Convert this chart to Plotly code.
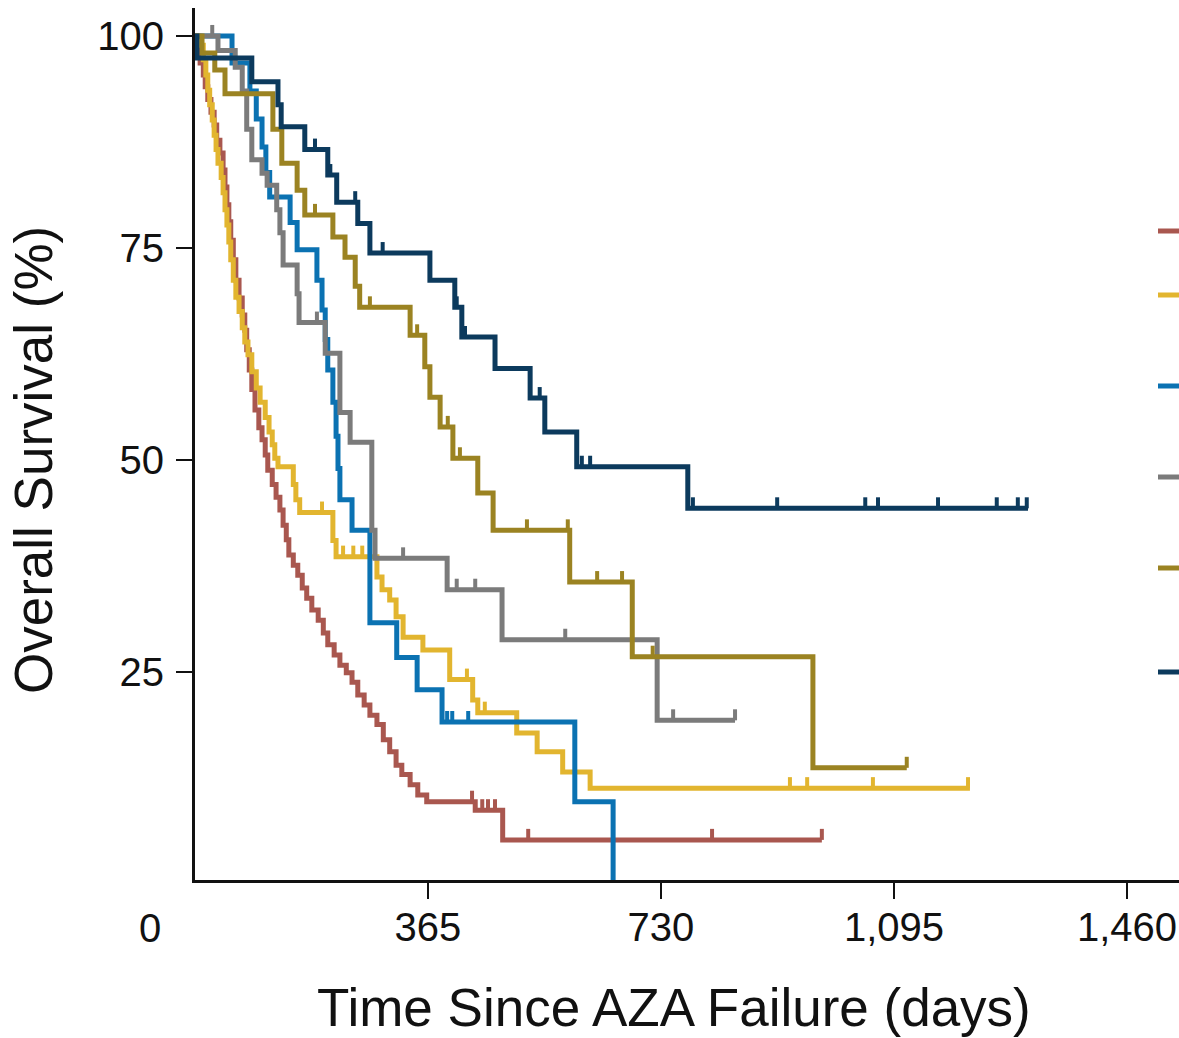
import plotly.graph_objects as go

# Kaplan-Meier step data: event times (days) and survival (%) after each step
red_t = [5, 8, 13, 16, 20, 25, 30, 34, 39, 44, 47, 50, 53, 56, 60, 64, 69, 74, 78, 81,
         85, 89, 94, 100, 105, 110, 114, 121, 127, 133, 138, 143, 147, 154, 161, 168, 175,
         183, 193, 201, 208, 218, 227, 237, 246, 255, 265, 274, 285, 295, 305, 315, 324,
         337, 349, 363, 439, 482]
red_s = [98.3, 96.8, 95.4, 94.0, 92.5, 91.0, 89.5, 87.7, 86.2, 84.2, 82.2, 80.1, 78.1, 75.9,
         73.6, 71.2, 69.1, 67.1, 65.3, 63.0, 60.6, 58.3, 55.9, 53.8, 52.4, 50.6, 48.8, 47.1,
         45.6, 44.1, 42.3, 40.6, 38.8, 37.6, 36.4, 34.9, 33.7, 32.3, 31.1, 29.6, 28.2, 27.0,
         25.8, 24.9, 23.8, 22.3, 21.1, 19.9, 18.8, 17.0, 15.6, 14.0, 12.9, 11.7, 10.5, 9.7,
         8.7, 5.2]
red_end = 982
red_cens = [434, 450, 459, 470, 522, 810, 982]

yellow_t = [8, 13, 17, 20, 23, 27, 30, 33, 36, 41, 44, 47, 50, 53, 56, 60, 64, 69, 74, 78,
            83, 89, 96, 102, 110, 116, 121, 125, 130, 154, 158, 164, 216, 221, 285, 293, 305,
            315, 326, 357, 399, 435, 443, 504, 536, 576, 619]
yellow_s = [98.9, 97.2, 95.4, 93.6, 91.9, 90.1, 88.3, 86.6, 85.0, 83.3, 81.5, 79.5, 77.7,
            75.7, 73.6, 71.2, 69.2, 67.5, 65.6, 63.9, 62.4, 60.4, 58.5, 56.8, 55.0, 53.3,
            51.8, 50.2, 49.2, 47.1, 45.3, 43.8, 40.5, 38.6, 36.2, 34.7, 33.5, 31.5, 29.1,
            27.6, 24.1, 21.7, 20.2, 17.8, 15.6, 13.2, 11.3]
yellow_end = 1214
yellow_cens = [199, 232, 248, 262, 426, 454, 932, 959, 1062, 1211]

blue_t = [58, 86, 96, 105, 111, 117, 149, 160, 191, 199, 204, 208, 216, 221, 224, 227, 246,
          274, 316, 348, 387, 595, 655]
blue_s = [96.8, 93.5, 90.2, 86.9, 83.9, 81.0, 78.0, 74.8, 71.2, 67.7, 64.2, 60.6, 56.8, 52.8,
          49.0, 45.3, 41.7, 30.8, 26.7, 22.9, 19.1, 9.7, 0.0]
blue_end = 655
blue_cens = [395, 403, 428]

gray_t = [36, 63, 74, 81, 89, 105, 113, 128, 133, 138, 160, 163, 204, 227, 243, 277, 282,
          395, 481, 724]
gray_s = [98.3, 96.3, 93.5, 89.0, 85.4, 83.8, 82.4, 79.5, 76.8, 73.0, 69.6, 66.2, 62.6, 55.6,
          52.1, 41.7, 38.4, 34.7, 28.8, 19.3]
gray_end = 846
gray_cens = [27, 191, 326, 410, 439, 580, 749, 846]

olive_t = [11, 31, 47, 122, 136, 160, 172, 216, 235, 251, 258, 337, 360, 368, 384, 404, 443,
           467, 587, 685, 968]
olive_s = [98.0, 96.0, 93.2, 89.0, 85.0, 81.8, 78.9, 76.3, 73.9, 70.5, 68.0, 64.7, 61.0, 57.4,
           53.9, 50.2, 46.1, 41.7, 35.6, 26.8, 13.7]
olive_end = 1115
olive_cens = [188, 274, 348, 396, 415, 520, 584, 630, 669, 717, 1115]

navy_t = [3, 89, 130, 135, 172, 208, 222, 255, 274, 368, 407, 418, 470, 525, 548, 598, 772]
navy_s = [97.4, 94.6, 91.9, 89.3, 86.6, 83.6, 80.4, 77.9, 74.4, 71.2, 68.0, 64.5, 60.8, 57.3,
          53.3, 49.2, 44.3]
navy_end = 1305
navy_cens = [188, 212, 251, 294, 410, 423, 540, 606, 619, 780, 912, 1050, 1070, 1164, 1256,
             1289, 1303]

x_tickvals = [365, 730, 1095, 1460]
x_ticktext = ["365", "730", "1,095", "1,460"]
y_tickvals = [25, 50, 75, 100]
y_ticktext = ["25", "50", "75", "100"]

series = [
    ("Group 1", red_t, red_s, red_end, red_cens, "#A9574F"),
    ("Group 2", yellow_t, yellow_s, yellow_end, yellow_cens, "#E2B52F"),
    ("Group 3", blue_t, blue_s, blue_end, blue_cens, "#0B72B2"),
    ("Group 4", gray_t, gray_s, gray_end, gray_cens, "#7B7B7B"),
    ("Group 5", olive_t, olive_s, olive_end, olive_cens, "#9B8322"),
    ("Group 6", navy_t, navy_s, navy_end, navy_cens, "#0C3A5D"),
]

# plot-area geometry in pixels (figure is 1179 x 1038)
W, H = 1179, 1038
L, T, B = 195, 8, 158
PW, PH = W - L, H - T - B
TICK_UP = 1.3  # censor tick height in % units


def px_x(p):
    return (p - L) / PW


def px_y(p):
    return (H - B - p) / PH


def surv_at(times, surv, t):
    v = 100.0
    for ti, si in zip(times, surv):
        if ti <= t:
            v = si
        else:
            break
    return v


fig = go.Figure()

for name, t, s, end, cens, color in series:
    xs = [0] + t + [end]
    ys = [100] + s + [s[-1]]
    fig.add_trace(go.Scatter(
        x=xs, y=ys, mode="lines", name=name,
        line=dict(color=color, width=5, shape="hv"),
        showlegend=False, hoverinfo="skip",
    ))
    cx, cy = [], []
    for c in cens:
        v = surv_at(t, s, c)
        cx += [c, c, None]
        cy += [v, v + TICK_UP, None]
    fig.add_trace(go.Scatter(
        x=cx, y=cy, mode="lines", name=name + " censored",
        line=dict(color=color, width=4),
        showlegend=False, hoverinfo="skip",
    ))

# legend swatches at the right edge
legend_y_px = [231, 295, 386, 477, 568, 672]
for (name, t, s, end, cens, color), yp in zip(series, legend_y_px):
    fig.add_shape(type="line", xref="paper", yref="paper",
                  x0=px_x(1158), x1=px_x(1182), y0=px_y(yp), y1=px_y(yp),
                  line=dict(color=color, width=5))

tick_font = dict(family="Liberation Sans, Arial, sans-serif", size=40, color="#111111")
title_font = dict(family="Liberation Sans, Arial, sans-serif", size=53, color="#111111")

fig.update_xaxes(
    range=[0, 1541.5], tickvals=x_tickvals, ticktext=x_ticktext,
    ticks="outside", ticklen=16, tickwidth=2, tickcolor="#111111",
    showline=True, linewidth=3, linecolor="#111111",
    showgrid=False, zeroline=False, tickfont=tick_font, ticklabelstandoff=-6,
)
fig.update_yaxes(
    range=[0.47, 103.3], tickvals=y_tickvals, ticktext=y_ticktext,
    ticks="outside", ticklen=16, tickwidth=2, tickcolor="#111111",
    showline=True, linewidth=3, linecolor="#111111",
    showgrid=False, zeroline=False, tickfont=tick_font, ticklabelstandoff=4,
)

fig.add_annotation(text="0", xref="paper", yref="paper", x=px_x(150), y=px_y(928),
                   xanchor="center", yanchor="middle", showarrow=False, font=tick_font)
fig.add_annotation(text="Time Since AZA Failure (days)", xref="paper", yref="paper",
                   x=px_x(674), y=px_y(1007), xanchor="center", yanchor="middle",
                   showarrow=False, font=title_font)
fig.add_annotation(text="Overall Survival (%)", xref="paper", yref="paper",
                   x=px_x(33), y=px_y(460), xanchor="center", yanchor="middle",
                   textangle=-90, showarrow=False, font=title_font)

fig.update_layout(
    width=W, height=H,
    margin=dict(l=L, r=0, t=T, b=B, pad=0),
    paper_bgcolor="white", plot_bgcolor="white",
    showlegend=False,
)

fig.write_html("out.html")
